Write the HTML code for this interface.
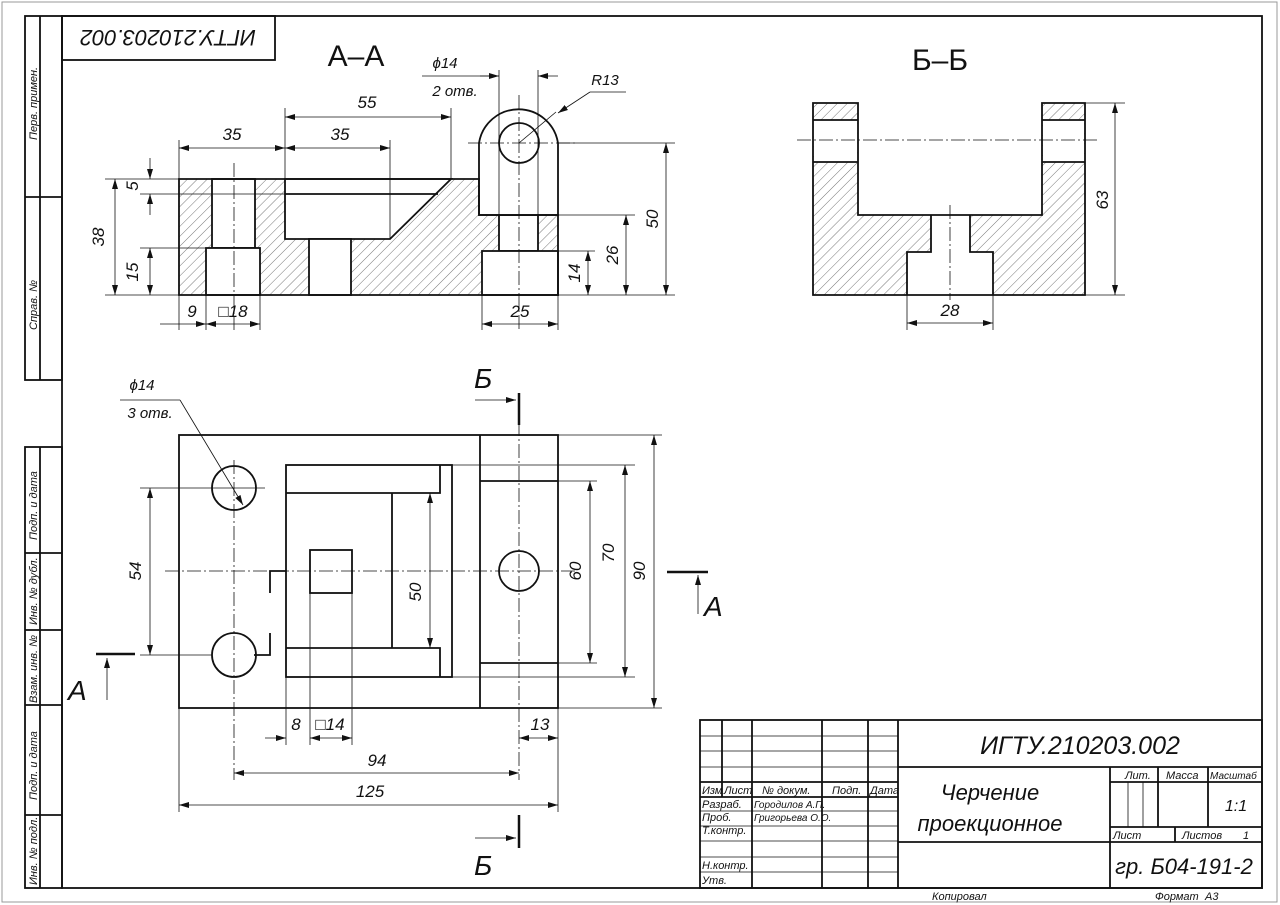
<!DOCTYPE html><html><head><meta charset="utf-8"><style>body{margin:0;background:#fff}svg{display:block}
text{font-family:"Liberation Sans","DejaVu Sans",sans-serif;font-style:italic;fill:#111}</style></head><body>
<svg width="1280" height="905" viewBox="0 0 1280 905" xmlns="http://www.w3.org/2000/svg">
<defs>
<pattern id="h" width="7" height="7" patternUnits="userSpaceOnUse" patternTransform="rotate(45)"><line x1="0" y1="0" x2="0" y2="7" stroke="#555" stroke-width="0.8"/></pattern>
<marker id="a" viewBox="0 0 10 6" refX="10" refY="3" markerWidth="10" markerHeight="6" orient="auto-start-reverse" markerUnits="userSpaceOnUse"><path d="M0,0 L10,3 L0,6z" fill="#111"/></marker>
</defs>
<rect x="2" y="2" width="1275" height="900" fill="none" stroke="#999"/>
<g fill="none" stroke="#111" stroke-width="1.8">
<rect x="62" y="16" width="1200" height="872"/>
<rect x="25" y="16" width="37" height="364"/><line x1="40" y1="16" x2="40" y2="380"/><line x1="25" y1="197" x2="62" y2="197"/>
<rect x="25" y="447" width="37" height="441"/><line x1="40" y1="447" x2="40" y2="888"/>
<line x1="25" y1="553" x2="62" y2="553"/><line x1="25" y1="630" x2="62" y2="630"/><line x1="25" y1="705" x2="62" y2="705"/><line x1="25" y1="815" x2="62" y2="815"/>
<rect x="62" y="16" width="213" height="44"/>
</g>
<g font-size="11">
<text transform="translate(37,140) rotate(-90)">Перв. примен.</text>
<text transform="translate(37,330) rotate(-90)">Справ. №</text>
<text transform="translate(37,540) rotate(-90)">Подп. и дата</text>
<text transform="translate(37,625) rotate(-90)">Инв. № дубл.</text>
<text transform="translate(37,703) rotate(-90)">Взам. инв. №</text>
<text transform="translate(37,800) rotate(-90)">Подп. и дата</text>
<text transform="translate(37,885) rotate(-90)">Инв. № подл.</text>
</g>
<text transform="translate(168,38) rotate(180)" font-size="22" text-anchor="middle" dy="8">ИГТУ.210203.002</text>

<!-- Section A-A -->
<text x="356" y="66" font-size="30" text-anchor="middle" style="font-style:normal">А–А</text>
<polygon points="179,179 479,179 479,215 558,215 558,295 179,295" fill="url(#h)"/>
<g fill="#fff" stroke="#111" stroke-width="1.8">
<rect x="212" y="179" width="43" height="69"/><rect x="206" y="248" width="54" height="47"/>
<polygon points="285,179 451,179 390,239 285,239"/>
<rect x="309" y="239" width="42" height="56"/>
<rect x="499" y="215" width="39" height="36"/><rect x="482" y="251" width="76" height="44"/>
<path d="M479,215 L479,143 A40,40 0 0 1 558,143 L558,215 Z"/>
</g>
<g fill="none" stroke="#111" stroke-width="1.8">
<polygon points="179,179 479,179 479,215 558,215 558,295 179,295"/>
<line x1="285" y1="194" x2="438" y2="194"/>
<circle cx="519" cy="143" r="20"/>
</g>
<g stroke="#111" stroke-width="0.8" fill="none">
<line x1="234" y1="163" x2="234" y2="330" stroke-dasharray="14,3,2,3"/>
<line x1="519" y1="95" x2="519" y2="330" stroke-dasharray="14,3,2,3"/>
<line x1="468" y1="143" x2="575" y2="143" stroke-dasharray="14,3,2,3"/>
<line x1="179" y1="179" x2="179" y2="140"/><line x1="285" y1="179" x2="285" y2="108"/><line x1="390" y1="239" x2="390" y2="140"/><line x1="451" y1="179" x2="451" y2="108"/>
<line x1="179" y1="148" x2="285" y2="148" marker-start="url(#a)" marker-end="url(#a)"/>
<line x1="285" y1="148" x2="390" y2="148" marker-start="url(#a)" marker-end="url(#a)"/>
<line x1="285" y1="117" x2="451" y2="117" marker-start="url(#a)" marker-end="url(#a)"/>
<line x1="105" y1="179" x2="179" y2="179"/><line x1="105" y1="295" x2="179" y2="295"/><line x1="140" y1="194" x2="285" y2="194"/><line x1="140" y1="248" x2="206" y2="248"/>
<line x1="150" y1="158" x2="150" y2="179" marker-end="url(#a)"/><line x1="150" y1="215" x2="150" y2="194" marker-end="url(#a)"/>
<line x1="150" y1="248" x2="150" y2="295" marker-start="url(#a)" marker-end="url(#a)"/>
<line x1="115" y1="179" x2="115" y2="295" marker-start="url(#a)" marker-end="url(#a)"/>
<line x1="179" y1="295" x2="179" y2="330"/><line x1="206" y1="295" x2="206" y2="330"/><line x1="260" y1="295" x2="260" y2="330"/>
<line x1="160" y1="324" x2="206" y2="324" marker-end="url(#a)"/><line x1="206" y1="324" x2="260" y2="324" marker-start="url(#a)" marker-end="url(#a)"/>
<line x1="482" y1="295" x2="482" y2="330"/><line x1="558" y1="295" x2="558" y2="330"/>
<line x1="482" y1="324" x2="558" y2="324" marker-start="url(#a)" marker-end="url(#a)"/>
<line x1="558" y1="143" x2="675" y2="143"/><line x1="558" y1="215" x2="635" y2="215"/><line x1="558" y1="251" x2="595" y2="251"/><line x1="558" y1="295" x2="675" y2="295"/>
<line x1="588" y1="251" x2="588" y2="295" marker-start="url(#a)" marker-end="url(#a)"/>
<line x1="626" y1="215" x2="626" y2="295" marker-start="url(#a)" marker-end="url(#a)"/>
<line x1="666" y1="143" x2="666" y2="295" marker-start="url(#a)" marker-end="url(#a)"/>
<line x1="499" y1="215" x2="499" y2="70"/><line x1="538" y1="215" x2="538" y2="70"/>
<line x1="422" y1="76" x2="499" y2="76"/><line x1="480" y1="76" x2="499" y2="76" marker-end="url(#a)"/><line x1="558" y1="76" x2="538" y2="76" marker-end="url(#a)"/>
<line x1="519" y1="143" x2="556" y2="112" /><line x1="590" y1="92" x2="558" y2="113" marker-end="url(#a)"/><line x1="590" y1="92" x2="626" y2="92"/>
</g>
<g font-size="17" text-anchor="middle">
<text x="232" y="140">35</text><text x="340" y="140">35</text><text x="367" y="108">55</text>
<text x="192" y="317">9</text><text x="233" y="317">□18</text><text x="520" y="317">25</text>
<text x="445" y="68" font-size="15">ϕ14</text><text x="455" y="96" font-size="15">2 отв.</text><text x="605" y="85" font-size="15">R13</text>
<text transform="translate(138,186) rotate(-90)">5</text><text transform="translate(138,272) rotate(-90)">15</text><text transform="translate(104,237) rotate(-90)">38</text>
<text transform="translate(580,273) rotate(-90)">14</text><text transform="translate(618,255) rotate(-90)">26</text><text transform="translate(658,219) rotate(-90)">50</text>
</g>

<!-- Section Б-Б -->
<text x="940" y="70" font-size="30" text-anchor="middle" style="font-style:normal">Б–Б</text>
<path d="M813,103 H858 V215 H931 V252 H907 V295 H813 Z M970,215 H1042 V103 H1085 V295 H993 V252 H970 Z" fill="url(#h)"/>
<g fill="#fff" stroke="none"><rect x="814" y="120" width="43" height="42"/><rect x="1043" y="120" width="41" height="42"/></g>
<g fill="none" stroke="#111" stroke-width="1.8">
<path d="M813,103 H858 V215 H1042 V103 H1085 V295 H813 Z"/>
<line x1="813" y1="120" x2="858" y2="120"/><line x1="813" y1="162" x2="858" y2="162"/>
<line x1="1042" y1="120" x2="1085" y2="120"/><line x1="1042" y1="162" x2="1085" y2="162"/>
<polyline points="931,215 931,252 907,252 907,295"/><polyline points="970,215 970,252 993,252 993,295"/>
</g>
<g stroke="#111" stroke-width="0.8" fill="none">
<line x1="797" y1="140" x2="1100" y2="140" stroke-dasharray="14,3,2,3"/>
<line x1="950" y1="205" x2="950" y2="300" stroke-dasharray="14,3,2,3"/>
<line x1="1085" y1="103" x2="1125" y2="103"/><line x1="1085" y1="295" x2="1125" y2="295"/>
<line x1="1115" y1="103" x2="1115" y2="295" marker-start="url(#a)" marker-end="url(#a)"/>
<line x1="907" y1="295" x2="907" y2="330"/><line x1="993" y1="295" x2="993" y2="330"/>
<line x1="907" y1="323" x2="993" y2="323" marker-start="url(#a)" marker-end="url(#a)"/>
</g>
<text x="950" y="316" font-size="17" text-anchor="middle">28</text>
<text transform="translate(1108,200) rotate(-90)" font-size="17" text-anchor="middle">63</text>

<!-- Plan view -->
<g fill="none" stroke="#111" stroke-width="1.8">
<rect x="179" y="435" width="379" height="273"/>
<line x1="480" y1="435" x2="480" y2="708"/>
<line x1="480" y1="481" x2="558" y2="481"/><line x1="480" y1="663" x2="558" y2="663"/>
<rect x="286" y="465" width="166" height="212"/>
<polyline points="286,493 440,493 440,465"/><polyline points="286,648 440,648 440,677"/>
<line x1="392" y1="493" x2="392" y2="648"/>
<rect x="310" y="550" width="42" height="43"/>
<circle cx="234" cy="488" r="22"/><circle cx="234" cy="655" r="22"/><circle cx="519" cy="571" r="20"/>
<polyline points="270,593 270,571 286,571"/><polyline points="270,633 270,655 254,655"/>
</g>
<g stroke="#111" stroke-width="0.8" fill="none">
<line x1="165" y1="571" x2="575" y2="571" stroke-dasharray="14,3,2,3"/>
<line x1="234" y1="460" x2="234" y2="780" stroke-dasharray="14,3,2,3"/>
<line x1="519" y1="400" x2="519" y2="780" stroke-dasharray="14,3,2,3"/>
<line x1="140" y1="488" x2="265" y2="488"/><line x1="140" y1="655" x2="212" y2="655"/>
<line x1="150" y1="488" x2="150" y2="655" marker-start="url(#a)" marker-end="url(#a)"/>
<line x1="430" y1="493" x2="430" y2="648" marker-start="url(#a)" marker-end="url(#a)"/>
<line x1="558" y1="481" x2="597" y2="481"/><line x1="558" y1="663" x2="597" y2="663"/>
<line x1="452" y1="465" x2="635" y2="465"/><line x1="452" y1="677" x2="635" y2="677"/>
<line x1="558" y1="435" x2="662" y2="435"/><line x1="558" y1="708" x2="662" y2="708"/>
<line x1="590" y1="481" x2="590" y2="663" marker-start="url(#a)" marker-end="url(#a)"/>
<line x1="625" y1="465" x2="625" y2="677" marker-start="url(#a)" marker-end="url(#a)"/>
<line x1="654" y1="435" x2="654" y2="708" marker-start="url(#a)" marker-end="url(#a)"/>
<line x1="179" y1="708" x2="179" y2="812"/><line x1="558" y1="708" x2="558" y2="812"/>
<line x1="286" y1="677" x2="286" y2="745"/><line x1="310" y1="593" x2="310" y2="745"/><line x1="352" y1="593" x2="352" y2="745"/>
<line x1="265" y1="738" x2="286" y2="738" marker-end="url(#a)"/><line x1="310" y1="738" x2="352" y2="738" marker-start="url(#a)" marker-end="url(#a)"/>
<line x1="519" y1="738" x2="558" y2="738" marker-start="url(#a)" marker-end="url(#a)"/>
<line x1="234" y1="773" x2="519" y2="773" marker-start="url(#a)" marker-end="url(#a)"/>
<line x1="179" y1="805" x2="558" y2="805" marker-start="url(#a)" marker-end="url(#a)"/>
<line x1="120" y1="400" x2="180" y2="400"/><line x1="180" y1="400" x2="243" y2="505" marker-end="url(#a)"/>
<line x1="475" y1="400" x2="516" y2="400" marker-end="url(#a)"/>
<line x1="475" y1="838" x2="516" y2="838" marker-end="url(#a)"/>
<line x1="107" y1="700" x2="107" y2="658" marker-end="url(#a)"/>
<line x1="698" y1="614" x2="698" y2="575" marker-end="url(#a)"/>
</g>
<g stroke="#111" stroke-width="2.5">
<line x1="519" y1="393" x2="519" y2="425"/><line x1="519" y1="815" x2="519" y2="848"/>
<line x1="96" y1="654" x2="135" y2="654"/><line x1="667" y1="572" x2="708" y2="572"/>
</g>
<g font-size="17" text-anchor="middle">
<text x="142" y="390" font-size="15">ϕ14</text><text x="150" y="418" font-size="15">3 отв.</text>
<text x="296" y="730">8</text><text x="330" y="730">□14</text><text x="540" y="730">13</text>
<text x="377" y="766">94</text><text x="370" y="797">125</text>
<text transform="translate(141,571) rotate(-90)">54</text><text transform="translate(421,592) rotate(-90)">50</text>
<text transform="translate(581,571) rotate(-90)">60</text><text transform="translate(614,553) rotate(-90)">70</text><text transform="translate(645,571) rotate(-90)">90</text>
</g>
<g font-size="28" style="font-style:normal">
<text x="474" y="388">Б</text><text x="474" y="875">Б</text><text x="68" y="700">А</text><text x="704" y="616">А</text>
</g>

<!-- Title block -->
<g fill="none" stroke="#111" stroke-width="1.8">
<rect x="700" y="720" width="562" height="168"/>
<line x1="722" y1="720" x2="722" y2="797"/><line x1="752" y1="720" x2="752" y2="888"/><line x1="822" y1="720" x2="822" y2="888"/><line x1="868" y1="720" x2="868" y2="888"/><line x1="898" y1="720" x2="898" y2="888"/>
<line x1="898" y1="767" x2="1262" y2="767"/><line x1="898" y1="842" x2="1110" y2="842"/>
<line x1="1110" y1="767" x2="1110" y2="888"/><line x1="1110" y1="842" x2="1262" y2="842"/>
<line x1="1110" y1="782" x2="1262" y2="782"/><line x1="1110" y1="827" x2="1262" y2="827"/>
<line x1="1158" y1="767" x2="1158" y2="827"/><line x1="1208" y1="767" x2="1208" y2="827"/><line x1="1175" y1="827" x2="1175" y2="842"/>
<line x1="700" y1="782" x2="898" y2="782"/><line x1="700" y1="797" x2="898" y2="797"/>
</g>
<g stroke="#111" stroke-width="0.8">
<line x1="700" y1="736" x2="898" y2="736"/><line x1="700" y1="751" x2="898" y2="751"/><line x1="700" y1="767" x2="898" y2="767"/>
<line x1="700" y1="811" x2="898" y2="811"/><line x1="700" y1="826" x2="898" y2="826"/><line x1="700" y1="841" x2="898" y2="841"/><line x1="700" y1="857" x2="898" y2="857"/><line x1="700" y1="872" x2="898" y2="872"/>
<line x1="1128" y1="782" x2="1128" y2="827"/><line x1="1143" y1="782" x2="1143" y2="827"/>
</g>
<g font-size="11">
<text x="702" y="794">Изм</text><text x="724" y="794">Лист</text><text x="762" y="794">№ докум.</text><text x="832" y="794">Подп.</text><text x="870" y="794">Дата</text>
<text x="702" y="808">Разраб.</text><text x="754" y="808" font-size="10">Городилов А.П.</text>
<text x="702" y="821">Проб.</text><text x="754" y="821" font-size="10">Григорьева О.О.</text>
<text x="702" y="834">Т.контр.</text><text x="702" y="869">Н.контр.</text><text x="702" y="884">Утв.</text>
<text x="1125" y="779">Лит.</text><text x="1166" y="779">Масса</text><text x="1210" y="779" font-size="10">Масштаб</text>
<text x="1113" y="839">Лист</text><text x="1182" y="839">Листов</text><text x="1243" y="839">1</text>
<text x="932" y="900">Копировал</text><text x="1155" y="900">Формат</text><text x="1205" y="900">А3</text>
</g>
<text x="1080" y="754" font-size="25" text-anchor="middle">ИГТУ.210203.002</text>
<text x="990" y="800" font-size="22" text-anchor="middle">Черчение</text>
<text x="990" y="831" font-size="22" text-anchor="middle">проекционное</text>
<text x="1236" y="811" font-size="16" text-anchor="middle">1:1</text>
<text x="1184" y="874" font-size="22" text-anchor="middle">гр. Б04-191-2</text>
</svg></body></html>
